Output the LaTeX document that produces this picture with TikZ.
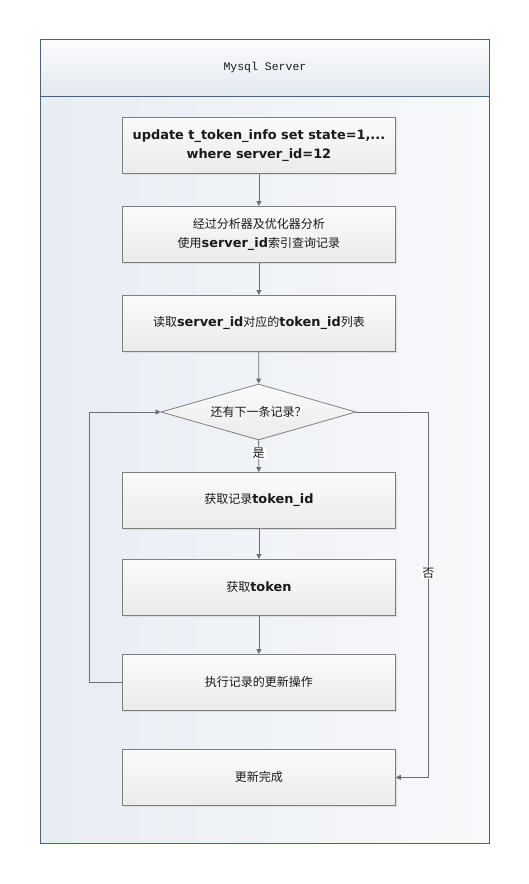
\documentclass[tikz,border=0pt]{standalone}
\usepackage{fontspec}
\setmainfont{Noto Sans CJK SC}
\newfontfamily\kwfont{DejaVu Sans}
\newfontfamily\titlefont{Liberation Mono}
\usetikzlibrary{arrows.meta,positioning,shapes.geometric,shadows}
\definecolor{frameline}{HTML}{4A6282}
\definecolor{headtop}{HTML}{FBFCFD}
\definecolor{headbot}{HTML}{E3E8F0}
\definecolor{bodyleft}{HTML}{E8ECF3}
\definecolor{bodyright}{HTML}{F8F9FB}
\definecolor{boxline}{HTML}{7F7F7F}
\definecolor{boxtop}{HTML}{FBFBFB}
\definecolor{boxbot}{HTML}{EBEBEB}
\definecolor{wire}{HTML}{6E6E6E}
\definecolor{ink}{HTML}{1A1A1A}
\newcommand{\kw}[1]{{\kwfont\bfseries\fontsize{12.9}{19.5}\selectfont #1}}

\begin{document}
\begin{tikzpicture}[
  x=1pt,y=-1pt,
  font=\fontsize{12}{19.5}\selectfont, text=ink,
  panel/.style={draw=frameline,line width=.9pt,left color=bodyleft,right color=bodyright,
    anchor=north west,minimum width=449pt,minimum height=747pt,inner sep=0pt},
  header/.style={draw=frameline,line width=.9pt,top color=headtop,bottom color=headbot,
    anchor=north west,minimum width=449pt,minimum height=57pt,inner sep=0pt,
    font=\titlefont\fontsize{11.5}{13}\selectfont},
  stepbox/.style={draw=boxline,line width=.8pt,top color=boxtop,bottom color=boxbot,
    anchor=north west,minimum width=273pt,minimum height=56pt,inner sep=0pt,align=center,
    drop shadow={shadow xshift=1.6pt,shadow yshift=-1.6pt,fill=black!18,opacity=.6}},
  choice/.style={diamond,draw=boxline,line width=.8pt,top color=boxtop,bottom color=boxbot,
    minimum width=195pt,minimum height=56pt,inner sep=0pt,aspect=3.5},
  flow/.style={-{Triangle[length=5pt,width=5pt]},draw=wire,line width=.8pt},
  lab/.style={fill=white,inner sep=1pt}
]
\useasboundingbox (0,0) rectangle (529,884);

\node[panel] (body) at (40,96) {};
\node[header] (title) at (40,39) {Mysql Server};

\node[stepbox] (upd) at (122,117) {\kw{update t\_token\_info set state=1,...}\\\kw{where server\_id=12}};
\node[stepbox] (plan) at (122,206) {经过分析器及优化器分析\\使用\kw{server\_id}索引查询记录};
\node[stepbox] (scan) at (122,295) {读取\kw{server\_id}对应的\kw{token\_id}列表};
\node[choice] (more) at (258.5,412) {还有下一条记录？};
\node[stepbox] (fetch) at (122,472) {获取记录\kw{token\_id}};
\node[stepbox] (tok) at (122,559) {获取\kw{token}};
\node[stepbox] (exec) at (122,654) {执行记录的更新操作};
\node[stepbox] (done) at (122,749) {更新完成};

\draw[flow] (upd) -- (plan);
\draw[flow] (plan) -- (scan);
\draw[flow] (scan) -- (more);
\draw[flow] (more) -- node[lab,pos=.4] {是} (fetch);
\draw[flow] (fetch) -- (tok);
\draw[flow] (tok) -- (exec);

% loop back and exit
\draw[flow] (exec.west) -- ++(-33,0) |- (more.west);
\draw[flow] (more.east) -- ++(72,0) |- node[lab,pos=.22] {否} (done.east);

\end{tikzpicture}
\end{document}
